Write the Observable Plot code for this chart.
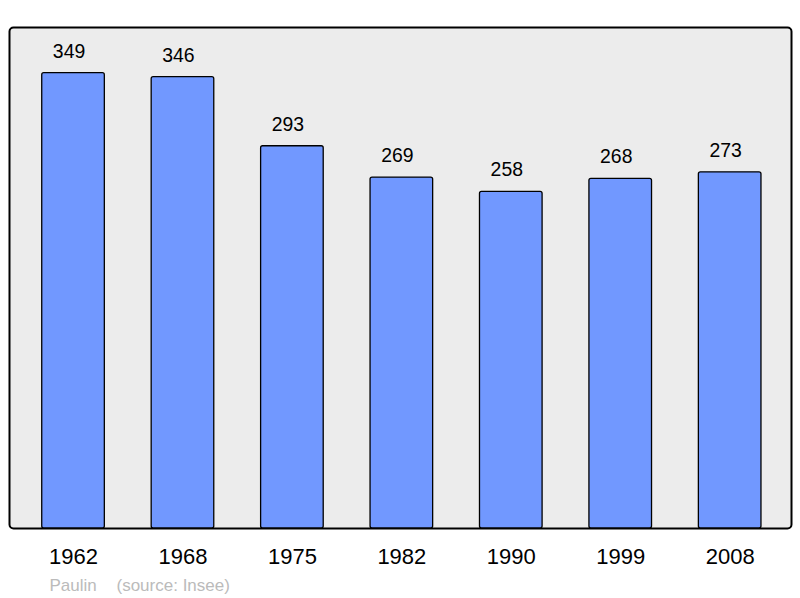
<!DOCTYPE html>
<html><head><meta charset="utf-8">
<script src="https://cdn.jsdelivr.net/npm/d3@7"></script>
<script src="https://cdn.jsdelivr.net/npm/@observablehq/plot@0.6"></script>
<style>body{margin:0;background:#fff}</style>
</head><body><div id="chart"></div>
<script>
const years = ["1962","1968","1975","1982","1990","1999","2008"];
const population = [349,346,293,269,258,268,273];
const author = "Paulin";
const source = "(source: Insee)";

const data = years.map((y,i)=>({year:y, value:population[i]}));

const chart = Plot.plot({
  width: 800, height: 598,
  marginLeft: 9, marginRight: 9, marginTop: 27, marginBottom: 70,
  style: {fontFamily: "Liberation Sans, Arial, sans-serif", background: "#fff"},
  x: {domain: years, range: [8.9, 793.8], paddingInner: 0.428, paddingOuter: 0.3, round: false, label: null},
  y: {domain: [0, 384], axis: null},
  marks: [
    Plot.frame({fill: "#ececec", stroke: "#000", strokeWidth: 2, rx: 4}),
    Plot.barY(data, {x: "year", y: "value", fill: "#7198ff", stroke: "#000", strokeWidth: 1.3, rx: 2}),
    Plot.text(data, {x: "year", y: "value", text: d => String(d.value), dx: -4.5, dy: -15.5, lineAnchor: "bottom", fontSize: 19.4, fill: "#000"}),
    Plot.axisX({tickSize: 0, tickPadding: 20, fontSize: 22, fill: "#000", label: null}),
    Plot.text([author], {frameAnchor: "bottom-left", dx: 40, dy: 62, lineAnchor: "bottom", textAnchor: "start", fontSize: 17, fill: "#bbbbbb"}),
    Plot.text([source], {frameAnchor: "bottom-left", dx: 107, dy: 62, lineAnchor: "bottom", textAnchor: "start", fontSize: 17, fill: "#bbbbbb"})
  ]
});
document.getElementById("chart").appendChild(chart);
</script>
</body></html>
